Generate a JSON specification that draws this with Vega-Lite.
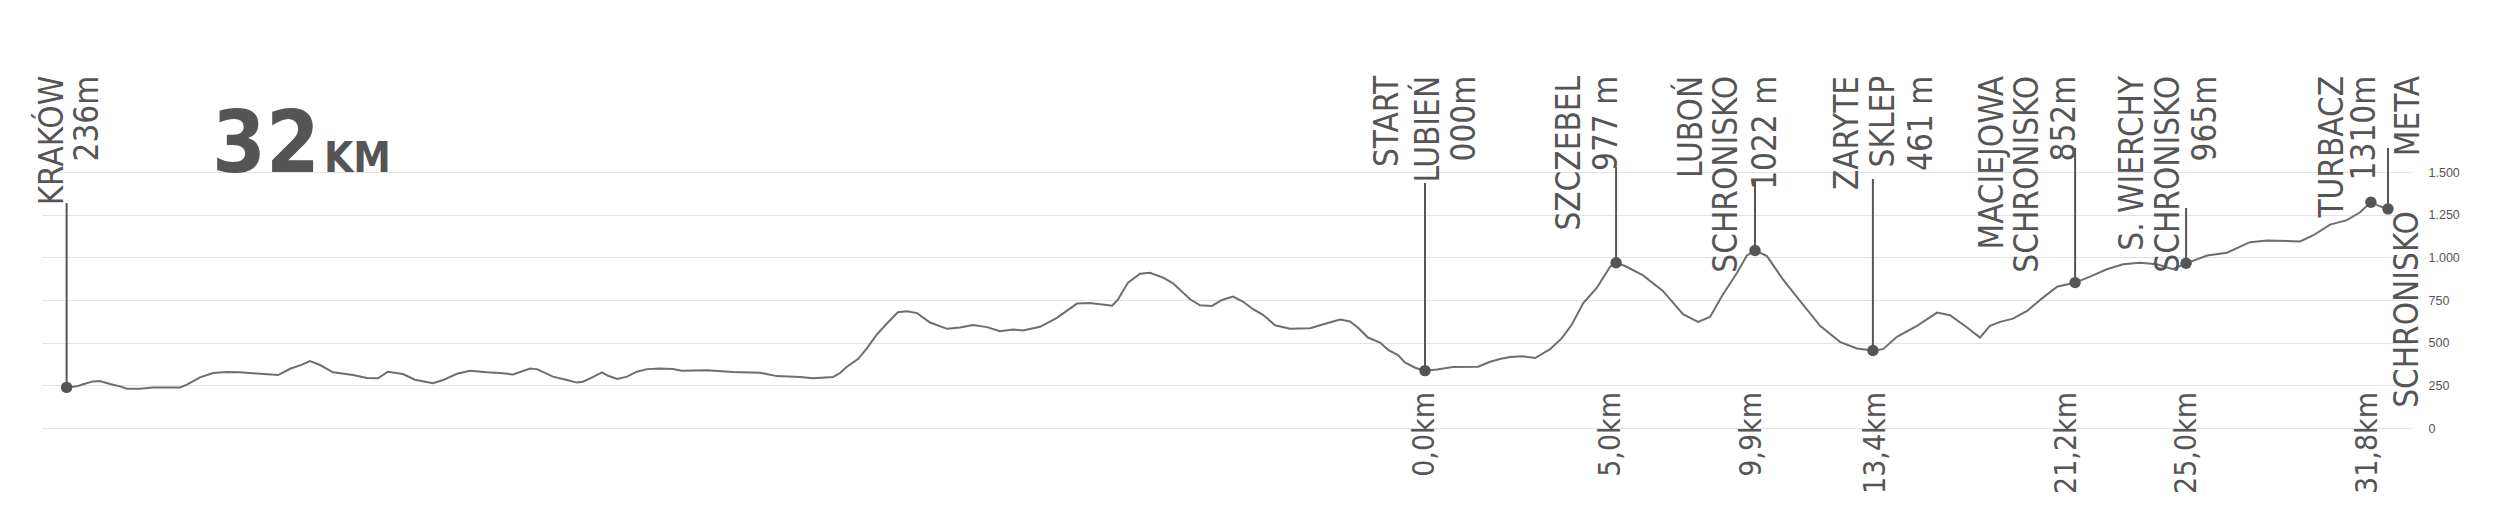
{
  "$schema": "https://vega.github.io/schema/vega-lite/v6.json",
  "autosize": {"type": "none"},
  "width": 2370,
  "height": 256,
  "padding": {"left": 42, "top": 172, "right": 88, "bottom": 81},
  "background": "white",
  "config": {
    "view": {"stroke": null},
    "locale": {"number": {"decimal": ",", "thousands": ".", "grouping": [3], "currency": ["", ""]}}
  },
  "datasets": {
    "profile": [
      {"dist":0.82,"elev":238},{"dist":1.16,"elev":244},{"dist":1.37,"elev":256},{"dist":1.70,"elev":273},{"dist":1.93,"elev":275},
      {"dist":2.27,"elev":258},{"dist":2.60,"elev":244},{"dist":2.83,"elev":230},{"dist":3.27,"elev":230},{"dist":3.70,"elev":238},
      {"dist":4.60,"elev":238},{"dist":4.83,"elev":254},{"dist":5.27,"elev":297},{"dist":5.70,"elev":322},{"dist":6.17,"elev":328},
      {"dist":6.60,"elev":326},{"dist":7.27,"elev":318},{"dist":7.87,"elev":310},{"dist":8.27,"elev":347},{"dist":8.67,"elev":371},
      {"dist":8.93,"elev":392},{"dist":9.27,"elev":369},{"dist":9.70,"elev":326},{"dist":10.37,"elev":310},{"dist":10.83,"elev":293},
      {"dist":11.20,"elev":291},{"dist":11.53,"elev":330},{"dist":12.03,"elev":316},{"dist":12.43,"elev":283},{"dist":13.03,"elev":262},
      {"dist":13.37,"elev":281},{"dist":13.83,"elev":318},{"dist":14.27,"elev":336},{"dist":14.83,"elev":326},{"dist":15.27,"elev":322},
      {"dist":15.70,"elev":314},{"dist":16.27,"elev":349},{"dist":16.50,"elev":345},{"dist":17.03,"elev":301},{"dist":17.50,"elev":281},
      {"dist":17.83,"elev":266},{"dist":18.03,"elev":271},{"dist":18.27,"elev":291},{"dist":18.67,"elev":326},{"dist":18.87,"elev":306},
      {"dist":19.17,"elev":287},{"dist":19.50,"elev":301},{"dist":19.83,"elev":330},{"dist":20.17,"elev":345},{"dist":20.60,"elev":349},
      {"dist":21.03,"elev":345},{"dist":21.33,"elev":336},{"dist":22.17,"elev":339},{"dist":23.03,"elev":328},{"dist":23.93,"elev":324},
      {"dist":24.50,"elev":304},{"dist":25.27,"elev":299},{"dist":25.70,"elev":291},{"dist":26.37,"elev":299},{"dist":26.60,"elev":322},
      {"dist":26.83,"elev":359},{"dist":27.20,"elev":404},{"dist":27.50,"elev":468},{"dist":27.83,"elev":548},{"dist":28.17,"elev":614},
      {"dist":28.53,"elev":678},{"dist":28.83,"elev":684},{"dist":29.17,"elev":673},{"dist":29.60,"elev":618},{"dist":30.17,"elev":581},
      {"dist":30.60,"elev":589},{"dist":31.03,"elev":604},{"dist":31.50,"elev":591},{"dist":31.93,"elev":567},{"dist":32.37,"elev":577},
      {"dist":32.70,"elev":571},{"dist":33.27,"elev":593},{"dist":33.83,"elev":645},{"dist":34.50,"elev":729},{"dist":34.93,"elev":733},
      {"dist":35.67,"elev":717},{"dist":35.87,"elev":754},{"dist":36.20,"elev":852},{"dist":36.60,"elev":904},{"dist":36.93,"elev":910},
      {"dist":37.37,"elev":881},{"dist":37.70,"elev":848},{"dist":38.27,"elev":754},{"dist":38.60,"elev":719},{"dist":39.00,"elev":715},
      {"dist":39.33,"elev":750},{"dist":39.70,"elev":770},{"dist":40.03,"elev":741},{"dist":40.37,"elev":696},{"dist":40.70,"elev":663},
      {"dist":41.10,"elev":602},{"dist":41.60,"elev":581},{"dist":42.27,"elev":585},{"dist":42.83,"elev":614},{"dist":43.27,"elev":636},
      {"dist":43.60,"elev":624},{"dist":43.87,"elev":587},{"dist":44.20,"elev":530},{"dist":44.60,"elev":501},{"dist":44.87,"elev":458},
      {"dist":45.20,"elev":427},{"dist":45.43,"elev":384},{"dist":45.77,"elev":353},{"dist":46.10,"elev":336},{"dist":46.50,"elev":343},
      {"dist":47.03,"elev":357},{"dist":47.87,"elev":359},{"dist":48.27,"elev":388},{"dist":48.60,"elev":404},{"dist":48.93,"elev":416},
      {"dist":49.37,"elev":420},{"dist":49.77,"elev":410},{"dist":50.27,"elev":462},{"dist":50.67,"elev":528},{"dist":51.00,"elev":608},
      {"dist":51.37,"elev":731},{"dist":51.83,"elev":822},{"dist":52.27,"elev":945},{"dist":52.47,"elev":968},{"dist":52.77,"elev":949},
      {"dist":53.37,"elev":894},{"dist":54.03,"elev":803},{"dist":54.70,"elev":667},{"dist":55.20,"elev":622},{"dist":55.60,"elev":651},
      {"dist":56.00,"elev":774},{"dist":56.50,"elev":910},{"dist":56.83,"elev":1011},{"dist":57.10,"elev":1040},{"dist":57.50,"elev":1007},
      {"dist":58.03,"elev":871},{"dist":58.60,"elev":745},{"dist":59.27,"elev":599},{"dist":59.93,"elev":505},{"dist":60.50,"elev":466},
      {"dist":61.03,"elev":454},{"dist":61.37,"elev":462},{"dist":61.83,"elev":534},{"dist":62.50,"elev":599},{"dist":63.17,"elev":676},
      {"dist":63.60,"elev":661},{"dist":64.17,"elev":589},{"dist":64.60,"elev":530},{"dist":64.93,"elev":598},{"dist":65.27,"elev":622},
      {"dist":65.70,"elev":641},{"dist":66.17,"elev":686},{"dist":66.70,"elev":764},{"dist":67.17,"elev":828},{"dist":67.77,"elev":852},
      {"dist":68.27,"elev":887},{"dist":68.83,"elev":930},{"dist":69.37,"elev":959},{"dist":69.93,"elev":968},{"dist":70.50,"elev":959},
      {"dist":71.03,"elev":930},{"dist":71.47,"elev":965},{"dist":72.17,"elev":1011},{"dist":72.83,"elev":1027},{"dist":73.60,"elev":1089},
      {"dist":74.17,"elev":1099},{"dist":75.27,"elev":1093},{"dist":75.70,"elev":1128},{"dist":76.27,"elev":1192},{"dist":76.83,"elev":1218},
      {"dist":77.27,"elev":1264},{"dist":77.63,"elev":1323},{"dist":77.93,"elev":1299},{"dist":78.20,"elev":1284}
    ],
    "stops": [
      {"name":"KRAKÓW","dist":0.82,"elev":238,"top":1318},
      {"name":"START LUBIEŃ","dist":46.10,"elev":336,"top":1436},
      {"name":"SZCZEBEL","dist":52.47,"elev":968,"top":1529},
      {"name":"LUBOŃ","dist":57.10,"elev":1040,"top":1459},
      {"name":"ZARYTE","dist":61.03,"elev":454,"top":1459},
      {"name":"MACIEJOWA","dist":67.77,"elev":852,"top":1641},
      {"name":"S. WIERCHY","dist":71.47,"elev":965,"top":1289},
      {"name":"TURBACZ","dist":77.63,"elev":1323,"top":null},
      {"name":"META","dist":78.20,"elev":1284,"top":1641}
    ],
    "labels": [
      {"t":"KRAKÓW","lx":0.35,"ty":2063},{"t":"236m","lx":1.52,"ty":2063},
      {"t":"START","lx":44.85,"ty":2063},{"t":"LUBIEŃ","lx":46.23,"ty":2063},{"t":"000m","lx":47.42,"ty":2063},
      {"t":"SZCZEBEL","lx":50.93,"ty":2063},{"t":"977 m","lx":52.17,"ty":2063},
      {"t":"LUBOŃ","lx":55.0,"ty":2063},{"t":"SCHRONISKO","lx":56.17,"ty":2063},{"t":"1022 m","lx":57.47,"ty":2063},
      {"t":"ZARYTE","lx":60.2,"ty":2063},{"t":"SKLEP","lx":61.4,"ty":2063},{"t":"461 m","lx":62.67,"ty":2063},
      {"t":"MACIEJOWA","lx":65.03,"ty":2063},{"t":"SCHRONISKO","lx":66.2,"ty":2063},{"t":"852m","lx":67.43,"ty":2063},
      {"t":"S. WIERCHY","lx":69.7,"ty":2063},{"t":"SCHRONISKO","lx":70.9,"ty":2063},{"t":"965m","lx":72.13,"ty":2063},
      {"t":"TURBACZ","lx":76.37,"ty":2063},{"t":"1310m","lx":77.43,"ty":2063},
      {"t":"META","lx":78.9,"ty":2063},{"t":"SCHRONISKO","lx":78.87,"ty":1271}
    ],
    "km": [
      {"t":"0,0km","lx":46.1},{"t":"5,0km","lx":52.3},{"t":"9,9km","lx":57.0},{"t":"13,4km","lx":61.13},
      {"t":"21,2km","lx":67.5},{"t":"25,0km","lx":71.5},{"t":"31,8km","lx":77.53}
    ]
  },
  "layer": [
    {
      "data": {"name": "profile"},
      "mark": {"type": "line", "color": "#6e6e6e", "strokeWidth": 2},
      "encoding": {
        "x": {"field": "dist", "type": "quantitative", "scale": {"domain": [0, 79], "nice": false, "zero": false}, "axis": null},
        "y": {"field": "elev", "type": "quantitative", "scale": {"domain": [0, 1500], "nice": false},
          "axis": {"orient": "right", "title": null, "values": [0, 250, 500, 750, 1000, 1250, 1500], "format": ",.0f", "grid": true, "gridColor": "#e2e2e2", "gridWidth": 1.2,
            "domain": false, "ticks": false, "labelPadding": 16, "labelFont": "Liberation Sans", "labelFontSize": 12.5, "labelColor": "#555"}}
      }
    },
    {
      "data": {"name": "stops"},
      "transform": [{"filter": "isValid(datum.top)"}],
      "mark": {"type": "rule", "color": "#555", "strokeWidth": 2},
      "encoding": {
        "x": {"field": "dist", "type": "quantitative", "axis": null},
        "y": {"field": "elev", "type": "quantitative"},
        "y2": {"field": "top"}
      }
    },
    {
      "data": {"name": "stops"},
      "mark": {"type": "circle", "color": "#555", "size": 130, "opacity": 1},
      "encoding": {
        "x": {"field": "dist", "type": "quantitative", "axis": null},
        "y": {"field": "elev", "type": "quantitative"}
      }
    },
    {
      "data": {"name": "labels"},
      "mark": {"type": "text", "angle": 270, "align": "right", "baseline": "middle", "font": "DejaVu Sans Condensed, sans-serif", "fontSize": 33, "color": "#555"},
      "encoding": {
        "x": {"field": "lx", "type": "quantitative", "axis": null},
        "y": {"field": "ty", "type": "quantitative"},
        "text": {"field": "t"}
      }
    },
    {
      "data": {"name": "km"},
      "mark": {"type": "text", "angle": 270, "align": "right", "baseline": "middle", "font": "DejaVu Sans Condensed, sans-serif", "fontSize": 30, "color": "#555"},
      "encoding": {
        "x": {"field": "lx", "type": "quantitative", "axis": null},
        "y": {"datum": 211, "type": "quantitative"},
        "text": {"field": "t"}
      }
    },
    {
      "data": {"values": [{"t": "32"}]},
      "mark": {"type": "text", "align": "left", "baseline": "alphabetic", "font": "DejaVu Sans Condensed, sans-serif", "fontWeight": "bold", "fontSize": 86, "color": "#555"},
      "encoding": {
        "x": {"datum": 5.67, "type": "quantitative", "axis": null},
        "y": {"datum": 1500, "type": "quantitative"},
        "text": {"field": "t"}
      }
    },
    {
      "data": {"values": [{"t": "KM"}]},
      "mark": {"type": "text", "align": "left", "baseline": "alphabetic", "font": "DejaVu Sans Condensed, sans-serif", "fontWeight": "bold", "fontSize": 42, "color": "#555"},
      "encoding": {
        "x": {"datum": 9.4, "type": "quantitative", "axis": null},
        "y": {"datum": 1500, "type": "quantitative"},
        "text": {"field": "t"}
      }
    }
  ]
}
